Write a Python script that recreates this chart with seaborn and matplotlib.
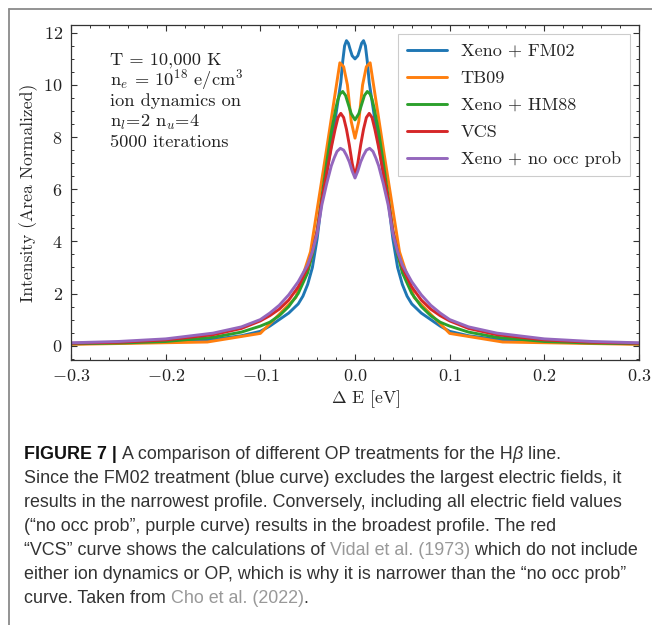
import numpy as np
import pandas as pd
import matplotlib
matplotlib.use("Agg")
import matplotlib.pyplot as plt
from matplotlib.lines import Line2D
import seaborn as sns

# ---------------- data ----------------
x_fm02 = [-0.3, -0.25, -0.2, -0.15, -0.12, -0.1, -0.09, -0.08, -0.07, -0.06, -0.055, -0.05, -0.045,
          -0.04, -0.035, -0.03, -0.025, -0.02, -0.015, -0.013, -0.011, -0.009, -0.007, -0.005,
          -0.003, 0.0,
          0.003, 0.005, 0.007, 0.009, 0.011, 0.013, 0.015, 0.02, 0.025, 0.03, 0.035, 0.04,
          0.045, 0.05, 0.055, 0.06, 0.07, 0.08, 0.09, 0.1, 0.12, 0.15, 0.2, 0.25, 0.3]
y_fm02 = [0.08, 0.10, 0.14, 0.24, 0.38, 0.55, 0.75, 1.0, 1.25, 1.6, 1.9, 2.35, 3.0,
          4.1, 5.6, 6.6, 7.7, 8.9, 10.1, 10.9, 11.5, 11.7, 11.6, 11.35,
          11.12, 11.0,
          11.12, 11.35, 11.6, 11.7, 11.5, 10.9, 10.1, 8.9, 7.7, 6.6, 5.6, 4.1,
          3.0, 2.35, 1.9, 1.6, 1.25, 1.0, 0.75, 0.55, 0.38, 0.24, 0.14, 0.10, 0.08]

x_tb09 = [-0.3, -0.156, -0.1, -0.0625, -0.047, -0.031, -0.016, -0.012, -0.008, -0.004, 0.0,
          0.004, 0.008, 0.012, 0.016, 0.031, 0.047, 0.0625, 0.1, 0.156, 0.3]
y_tb09 = [0.05, 0.14, 0.47, 1.85, 3.6, 7.3, 10.85, 10.7, 10.0, 8.6, 7.96,
          8.6, 10.0, 10.7, 10.85, 7.3, 3.6, 1.85, 0.47, 0.14, 0.05]

x_hm88 = [-0.3, -0.25, -0.2, -0.15, -0.12, -0.1, -0.09, -0.08, -0.07, -0.06, -0.05, -0.045,
          -0.04, -0.035, -0.03, -0.025, -0.02, -0.018, -0.016, -0.013, -0.01, -0.007, -0.004,
          0.0,
          0.004, 0.007, 0.01, 0.013, 0.016, 0.018, 0.02, 0.025, 0.03, 0.035, 0.04, 0.045, 0.05,
          0.06, 0.07, 0.08, 0.09, 0.1, 0.12, 0.15, 0.2, 0.25, 0.3]
y_hm88 = [0.07, 0.10, 0.16, 0.32, 0.52, 0.75, 0.9, 1.15, 1.5, 2.0, 2.8, 3.5,
          4.4, 5.7, 7.0, 8.2, 9.15, 9.45, 9.65, 9.75, 9.6, 9.25, 8.9,
          8.66,
          8.9, 9.25, 9.6, 9.75, 9.65, 9.45, 9.15, 8.2, 7.0, 5.7, 4.4, 3.5, 2.8,
          2.0, 1.5, 1.15, 0.9, 0.75, 0.52, 0.32, 0.16, 0.10, 0.07]

x_vcs = [-0.3, -0.25, -0.2, -0.15, -0.12, -0.1, -0.09, -0.08, -0.07, -0.06, -0.05, -0.045,
         -0.04, -0.035, -0.03, -0.025, -0.021, -0.018, -0.015, -0.012, -0.009, -0.006, -0.003,
         0.0,
         0.003, 0.006, 0.009, 0.012, 0.015, 0.018, 0.021, 0.025, 0.03, 0.035, 0.04, 0.045, 0.05,
         0.06, 0.07, 0.08, 0.09, 0.1, 0.12, 0.15, 0.2, 0.25, 0.3]
y_vcs = [0.09, 0.13, 0.22, 0.42, 0.66, 0.95, 1.15, 1.4, 1.75, 2.25, 3.0, 3.6,
         4.4, 5.6, 6.6, 7.6, 8.3, 8.75, 8.91, 8.75, 8.3, 7.7, 7.0,
         6.5,
         7.0, 7.7, 8.3, 8.75, 8.91, 8.75, 8.3, 7.6, 6.6, 5.6, 4.4, 3.6, 3.0,
         2.25, 1.75, 1.4, 1.15, 0.95, 0.66, 0.42, 0.22, 0.13, 0.09]

x_noocc = [-0.3, -0.25, -0.2, -0.15, -0.12, -0.1, -0.09, -0.08, -0.07, -0.06, -0.05, -0.045,
           -0.04, -0.035, -0.03, -0.025, -0.022, -0.019, -0.0155, -0.012, -0.009, -0.006, -0.003,
           0.0,
           0.003, 0.006, 0.009, 0.012, 0.0155, 0.019, 0.022, 0.025, 0.03, 0.035, 0.04, 0.045, 0.05,
           0.06, 0.07, 0.08, 0.09, 0.1, 0.12, 0.15, 0.2, 0.25, 0.3]
y_noocc = [0.11, 0.16, 0.26, 0.48, 0.72, 1.0, 1.25, 1.55, 1.95, 2.45, 3.1, 3.6,
           4.3, 5.4, 6.2, 6.9, 7.2, 7.45, 7.57, 7.5, 7.3, 7.05, 6.7,
           6.43,
           6.7, 7.05, 7.3, 7.5, 7.57, 7.45, 7.2, 6.9, 6.2, 5.4, 4.3, 3.6, 3.1,
           2.45, 1.95, 1.55, 1.25, 1.0, 0.72, 0.48, 0.26, 0.16, 0.11]

labels = ["Xeno + FM02", "TB09", "Xeno + HM88", "VCS", "Xeno + no occ prob"]
colors = ["#1f77b4", "#ff7f0e", "#2ca02c", "#d62728", "#9467bd"]
xs = [x_fm02, x_tb09, x_hm88, x_vcs, x_noocc]
ys = [y_fm02, y_tb09, y_hm88, y_vcs, y_noocc]

x_ticks = [-0.3, -0.2, -0.1, 0.0, 0.1, 0.2, 0.3]
y_ticks = [0, 2, 4, 6, 8, 10, 12]

info_lines = ["T = 10,000 K",
              r"n$_e$ = 10$^{18}$ e/cm$^3$",
              "ion dynamics on",
              r"n$_l$=2 n$_u$=4",
              "5000 iterations"]

caption = [
    [("FIGURE 7 | ", "bold"), ("A comparison of different OP treatments for the H", "normal"),
     ("β", "italic"), (" line.", "normal")],
    [("Since the FM02 treatment (blue curve) excludes the largest electric fields, it", "normal")],
    [("results in the narrowest profile. Conversely, including all electric field values", "normal")],
    [("(“no occ prob”, purple curve) results in the broadest profile. The red", "normal")],
    [("“VCS” curve shows the calculations of ", "normal"), ("Vidal et al. (1973)", "link"),
     (" which do not include", "normal")],
    [("either ion dynamics or OP, which is why it is narrower than the “no occ prob”", "normal")],
    [("curve. Taken from ", "normal"), ("Cho et al. (2022)", "link"), (".", "normal")],
]

# ---------------- styling ----------------
sns.set_style("ticks")
plt.rcParams.update({
    "font.family": "serif",
    "font.serif": ["cmr10", "DejaVu Serif"],
    "mathtext.fontset": "cm",
    "axes.formatter.use_mathtext": True,
    "axes.unicode_minus": True,
    "xtick.direction": "in",
    "ytick.direction": "in",
    "xtick.top": True,
    "ytick.right": True,
    "axes.edgecolor": "#333333",
    "axes.linewidth": 0.9,
    "xtick.color": "#333333",
    "ytick.color": "#333333",
    "xtick.labelcolor": "#222222",
    "ytick.labelcolor": "#222222",
})

fig = plt.figure(figsize=(6.52, 6.25), dpi=100)
ax = fig.add_axes([71 / 652, 1 - 360 / 625, 568 / 652, 335 / 625])

frames = []
for lab, x, y in zip(labels, xs, ys):
    frames.append(pd.DataFrame({"dE": x, "I": y, "model": lab}))
df = pd.concat(frames, ignore_index=True)

sns.lineplot(data=df, x="dE", y="I", hue="model", hue_order=labels,
             palette=colors, estimator=None, sort=False, linewidth=2.1, ax=ax)

ax.set_xlim(-0.3, 0.3)
ax.set_ylim(-0.55, 12.3)
ax.set_xticks(x_ticks)
ax.set_yticks(y_ticks)
ax.xaxis.set_minor_locator(matplotlib.ticker.MultipleLocator(0.02))
ax.yaxis.set_minor_locator(matplotlib.ticker.MultipleLocator(0.5))
ax.tick_params(which="major", length=4.5, width=0.8, labelsize=13, pad=6)
ax.tick_params(which="minor", length=2.3, width=0.7, top=True, right=True)
ax.set_xlabel(r"$\Delta$ E [eV]", fontsize=12.7, labelpad=5)
ax.set_ylabel("Intensity (Area Normalized)", fontsize=12.7, labelpad=4)
ax.xaxis.set_label_coords(0.519, -0.085)

for s in ax.spines.values():
    s.set_visible(True)

handles = [Line2D([], [], color=c, lw=2.1) for c in colors]
leg = ax.legend(handles, labels, loc="upper right", fontsize=13.1, frameon=True,
                fancybox=False, edgecolor="#cccccc", framealpha=1,
                handlelength=2.2, handletextpad=0.75, labelspacing=0.62,
                borderaxespad=0.5, borderpad=0.5)
leg.get_frame().set_linewidth(0.8)

for i, line in enumerate(info_lines):
    fig.text(110 / 652, 1 - (65 + 20.5 * i) / 625, line, fontsize=13.2,
             color="#222222", va="baseline", ha="left")

# ---------------- figure frame ----------------
fig.add_artist(Line2D([9 / 652, 1.0], [1 - 8.5 / 625, 1 - 8.5 / 625],
                      transform=fig.transFigure, color="#8a8a8a", lw=1.3))
fig.add_artist(Line2D([9 / 652, 9 / 652], [1 - 8.5 / 625, 0.0],
                      transform=fig.transFigure, color="#8a8a8a", lw=1.3))

# ---------------- caption ----------------
cap_family = ["Liberation Sans Narrow", "Liberation Sans", "DejaVu Sans"]
renderer = fig.canvas.get_renderer()


def text_width(s, size, weight="normal", style="normal"):
    t = fig.text(0, 0, s + "|", fontsize=size, family=cap_family, weight=weight, style=style)
    t2 = fig.text(0, 0, "|", fontsize=size, family=cap_family, weight=weight, style=style)
    w = t.get_window_extent(renderer).width - t2.get_window_extent(renderer).width
    t.remove()
    t2.remove()
    return w


def line_width(segs, size):
    total = 0.0
    for s, kind in segs:
        weight = "bold" if kind == "bold" else "normal"
        style = "italic" if kind == "italic" else "normal"
        total += text_width(s, size, weight, style)
    return total


target = 614.0
base = 12.0
w_max = max(line_width(segs, base) for segs in caption)
cap_size = base * target / w_max

x0 = 24.0
for i, segs in enumerate(caption):
    ybase = 459 + 24 * i
    xc = x0
    for s, kind in segs:
        weight = "bold" if kind == "bold" else "normal"
        style = "italic" if kind == "italic" else "normal"
        color = "#999999" if kind == "link" else ("#111111" if kind == "bold" else "#333333")
        fig.text(xc / 652, 1 - ybase / 625, s, fontsize=cap_size, family=cap_family,
                 weight=weight, style=style, color=color, va="baseline", ha="left")
        xc += text_width(s, cap_size, weight, style)

fig.savefig("out.png", dpi=100)
